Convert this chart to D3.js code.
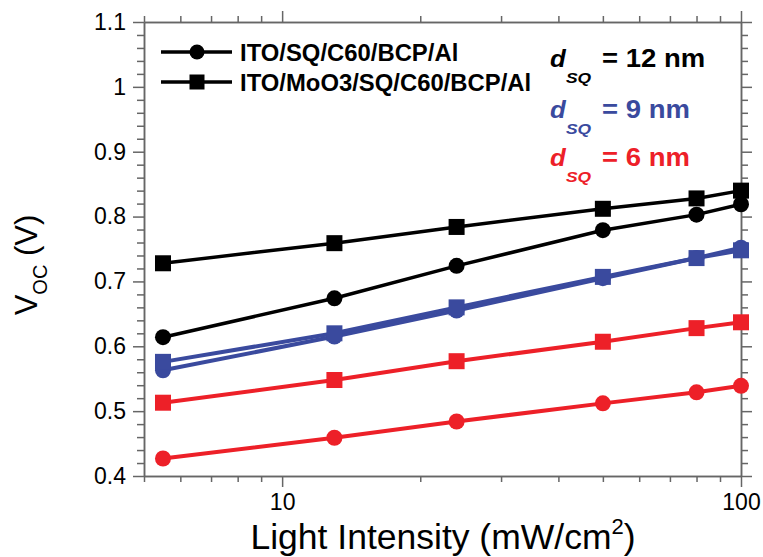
<!DOCTYPE html>
<html><head><meta charset="utf-8">
<script src="https://cdn.jsdelivr.net/npm/d3@7"></script>
<style>body{margin:0;background:#fff}svg{display:block}</style>
</head><body><svg id="c" width="763" height="557"></svg>
<script>
// ---- data ----
const intensity = [5.5, 13, 24, 50, 80, 100];
const voc12Circle = [0.614, 0.674, 0.724, 0.779, 0.803, 0.819];
const voc12Square = [0.728, 0.759, 0.784, 0.812, 0.828, 0.840];
const voc9Circle  = [0.563, 0.615, 0.655, 0.705, 0.736, 0.752];
const voc9Square  = [0.576, 0.620, 0.660, 0.707, 0.736, 0.748];
const voc6Circle  = [0.427, 0.459, 0.484, 0.512, 0.529, 0.539];
const voc6Square  = [0.513, 0.548, 0.577, 0.607, 0.628, 0.637];
const yMajorTicks = [0.4, 0.5, 0.6, 0.7, 0.8, 0.9, 1.0, 1.1];
const xMajorTicks = [10, 100];
const xMinorTicks = [5, 6, 7, 8, 9, 20, 30, 40, 50, 60, 70, 80, 90];
const legendLabels = ["ITO/SQ/C60/BCP/Al", "ITO/MoO3/SQ/C60/BCP/Al"];
const thicknessLabels = ["12", "9", "6"];

const BLACK = "#000000", BLUE = "#3a4a9e", RED = "#ed2028";
const series = [
  {v: voc6Circle, c: RED, m: "circle", w: 4},
  {v: voc6Square, c: RED, m: "square", w: 4},
  {v: voc9Circle, c: BLUE, m: "circle", w: 4},
  {v: voc9Square, c: BLUE, m: "square", w: 4},
  {v: voc12Circle, c: BLACK, m: "circle", w: 3.5},
  {v: voc12Square, c: BLACK, m: "square", w: 3.5}
];

const svg = d3.select("#c");
const L = 144, R = 741, T = 22, B = 476;
const x = d3.scaleLog().domain([5, 100]).range([L, R]);
const y = d3.scaleLinear().domain([0.4, 1.1]).range([B, T]);
const yMinor = d3.range(0.4, 1.1001, 0.02).map(d => +d.toFixed(2)).filter(d => !yMajorTicks.some(t => Math.abs(t - d) < 1e-6));
const FONT = "'Liberation Sans', Arial, sans-serif";
const AX = "#666666";

function styleAxis(g){
  g.selectAll("path.domain").attr("stroke", AX).attr("stroke-width", 1.5);
  g.selectAll(".tick line").attr("stroke", AX).attr("stroke-width", 1.5);
  g.selectAll(".tick text").attr("fill", "#000").style("font-family", FONT).style("font-size", "23px");
}
// bottom
svg.append("g").attr("transform", `translate(0,${B})`).call(d3.axisBottom(x).tickValues(xMinorTicks).tickSize(6).tickSizeOuter(0).tickFormat("")).call(styleAxis);
svg.append("g").attr("transform", `translate(0,${B})`).call(d3.axisBottom(x).tickValues(xMajorTicks).tickSize(11).tickSizeOuter(0).tickPadding(7).tickFormat(d3.format("d"))).call(styleAxis);
// top
svg.append("g").attr("transform", `translate(0,${T})`).call(d3.axisTop(x).tickValues(xMinorTicks).tickSize(6).tickSizeOuter(0).tickFormat("")).call(styleAxis);
svg.append("g").attr("transform", `translate(0,${T})`).call(d3.axisTop(x).tickValues(xMajorTicks).tickSize(11).tickSizeOuter(0).tickFormat("")).call(styleAxis);
// left
svg.append("g").attr("transform", `translate(${L},0)`).call(d3.axisLeft(y).tickValues(yMinor).tickSize(7).tickSizeOuter(0).tickFormat("")).call(styleAxis);
svg.append("g").attr("transform", `translate(${L},0)`).call(d3.axisLeft(y).tickValues(yMajorTicks).tickSize(11).tickSizeOuter(0).tickPadding(7).tickFormat(d => Math.abs(d-1) < 1e-9 ? "1" : d3.format(".1f")(d))).call(styleAxis);
// right
svg.append("g").attr("transform", `translate(${R},0)`).call(d3.axisRight(y).tickValues(yMinor).tickSize(7).tickSizeOuter(0).tickFormat("")).call(styleAxis);
svg.append("g").attr("transform", `translate(${R},0)`).call(d3.axisRight(y).tickValues(yMajorTicks).tickSize(11).tickSizeOuter(0).tickFormat("")).call(styleAxis);

// series
const line = d3.line().x(d => x(d[0])).y(d => y(d[1]));
const RAD = 8, SQ = 16;
function marker(g, m, cx, cy, c, r, s){
  if (m === "circle") g.append("circle").attr("cx", cx).attr("cy", cy).attr("r", r).attr("fill", c);
  else g.append("rect").attr("x", cx - s/2).attr("y", cy - s/2).attr("width", s).attr("height", s).attr("fill", c);
}
series.forEach(s => {
  const pts = intensity.map((xi, i) => [xi, s.v[i]]);
  const g = svg.append("g");
  g.append("path").attr("d", line(pts)).attr("fill", "none").attr("stroke", s.c).attr("stroke-width", s.w);
  pts.forEach(p => marker(g, s.m, x(p[0]), y(p[1]), s.c, RAD, SQ));
});

function stretch(t, f){
  const w = t.node().getComputedTextLength();
  t.attr("textLength", w * f).attr("lengthAdjust", "spacingAndGlyphs");
}

// legend
const lg = svg.append("g");
[["circle", 52], ["square", 82]].forEach((e, i) => {
  lg.append("line").attr("x1", 161).attr("x2", 232).attr("y1", e[1]).attr("y2", e[1]).attr("stroke", "#000").attr("stroke-width", 3.5);
  marker(lg, e[0], 197, e[1], "#000", 7.5, 15);
  const t = lg.append("text").attr("x", 240).attr("y", e[1] + 8.5).text(legendLabels[i])
    .style("font-family", FONT).style("font-size", "23.5px").style("font-weight", "bold").attr("fill", "#000");
  stretch(t, 1.015);
});

// thickness labels
const tColors = [BLACK, BLUE, RED];
const baseY = [67, 118, 166];
thicknessLabels.forEach((t, i) => {
  const g = svg.append("g").attr("fill", tColors[i]).style("font-family", FONT).style("font-weight", "bold");
  const d = g.append("text").attr("x", 550).attr("y", baseY[i]).text("d").style("font-size", "23px").style("font-style", "italic");
  stretch(d, 1.12);
  const sq = g.append("text").attr("x", 566).attr("y", baseY[i] + 16).text("SQ").style("font-size", "14.5px").style("font-style", "italic");
  stretch(sq, 1.2);
  const v = g.append("text").attr("x", 602).attr("y", baseY[i]).text("= " + t + " nm").style("font-size", "25px");
  stretch(v, 1.1);
});

// axis titles
const xt = svg.append("text").attr("x", 443).attr("y", 549).attr("text-anchor", "middle")
  .style("font-family", FONT).style("font-size", "35.5px").attr("fill", "#000");
xt.append("tspan").text("Light Intensity (mW/cm");
xt.append("tspan").text("2").style("font-size", "22px").attr("dy", -15);
xt.append("tspan").text(")").attr("dy", 15);

const yt = svg.append("text").attr("transform", "translate(37,265) rotate(-90)").attr("text-anchor", "middle")
  .style("font-family", FONT).style("font-size", "31px").attr("fill", "#000");
yt.append("tspan").text("V");
yt.append("tspan").text("OC").style("font-size", "20px").attr("dy", 10);
yt.append("tspan").text(" (V)").attr("dy", -10);
</script>
</body></html>
